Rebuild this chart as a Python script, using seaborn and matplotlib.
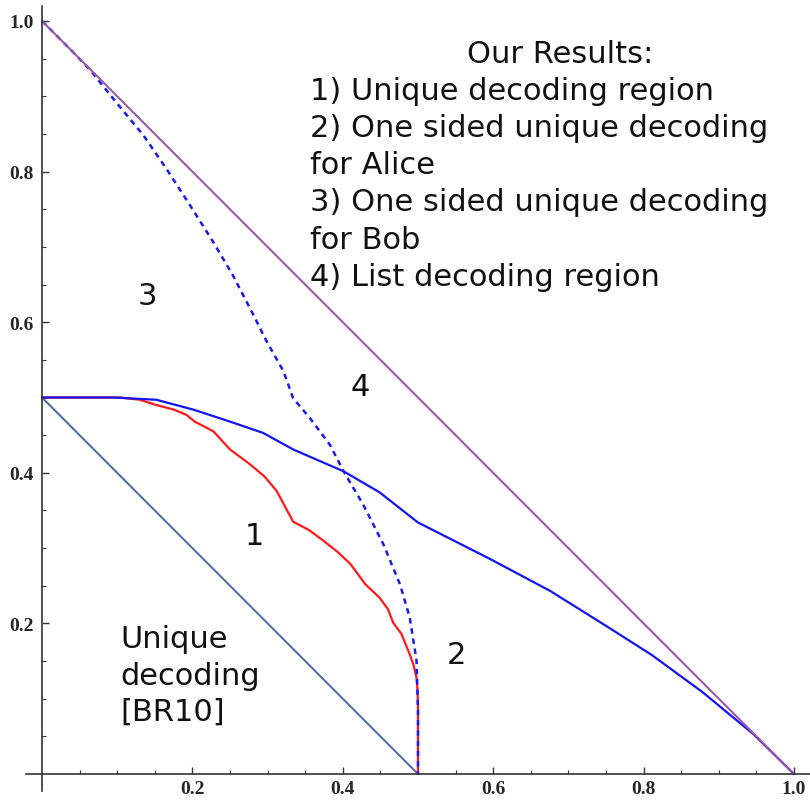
import numpy as np
import pandas as pd
import matplotlib
matplotlib.use("Agg")
import matplotlib.pyplot as plt
import seaborn as sns

# curves (x, y)
red_x = [0.0, 0.104, 0.13, 0.152, 0.175, 0.192, 0.203, 0.228, 0.25, 0.277,
         0.296, 0.312, 0.334, 0.355, 0.374, 0.393, 0.41, 0.43, 0.449, 0.46,
         0.467, 0.478, 0.489, 0.494, 0.498, 0.4995, 0.5, 0.5]
red_y = [0.5, 0.5, 0.497, 0.49, 0.484, 0.477, 0.468, 0.455, 0.431, 0.411,
         0.395, 0.376, 0.335, 0.324, 0.31, 0.295, 0.279, 0.252, 0.234, 0.219,
         0.201, 0.186, 0.159, 0.145, 0.128, 0.11, 0.09, 0.0]

blue_x = [0.0, 0.095, 0.152, 0.201, 0.25, 0.294, 0.334, 0.401, 0.449, 0.5,
          0.595, 0.676, 0.748, 0.811, 0.878, 0.946, 1.0]
blue_y = [0.5, 0.5, 0.497, 0.484, 0.468, 0.453, 0.431, 0.402, 0.374, 0.334,
          0.286, 0.243, 0.198, 0.158, 0.109, 0.053, 0.0]

dash_x = [0.0, 0.04, 0.064, 0.097, 0.135, 0.166, 0.197, 0.228, 0.254, 0.283,
          0.299, 0.321, 0.334, 0.356, 0.383, 0.401, 0.427, 0.454, 0.476,
          0.489, 0.498, 0.5, 0.5]
dash_y = [1.0, 0.96, 0.935, 0.894, 0.848, 0.803, 0.755, 0.706, 0.662, 0.606,
          0.574, 0.535, 0.499, 0.473, 0.437, 0.402, 0.358, 0.305, 0.252,
          0.208, 0.151, 0.085, 0.0]

br10_x = [0.0, 0.5]
br10_y = [0.5, 0.0]
list_x = [0.0, 1.0]
list_y = [1.0, 0.0]

tick_vals = [0.2, 0.4, 0.6, 0.8, 1.0]
tick_labels = ["0.2", "0.4", "0.6", "0.8", "1.0"]

legend_title = "Our Results:"
legend_lines = ["1) Unique decoding region",
                "2) One sided unique decoding",
                "for Alice",
                "3) One sided unique decoding",
                "for Bob",
                "4) List decoding region"]
region_labels = ["3", "4", "1", "2"]
br10_lines = ["Unique", "decoding", "[BR10]"]

sns.set_style("white")
plt.rcParams["font.family"] = ["DejaVu Sans"]

fig = plt.figure(figsize=(8.1, 8.04), dpi=100)
ax = fig.add_axes([0, 0, 1, 1])

def draw(xs, ys, **kw):
    df = pd.DataFrame({"x": xs, "y": ys})
    sns.lineplot(data=df, x="x", y="y", sort=False, estimator=None, ax=ax, **kw)

draw(br10_x, br10_y, color="#5470aa", lw=1.5)
draw(red_x, red_y, color="#ff1a1a", lw=1.6)
draw(blue_x, blue_y, color="#1414f0", lw=1.6)
draw(dash_x, dash_y, color="#1a1af0", lw=1.8, linestyle=(0, (2.2, 1.9)))
draw(list_x, list_y, color="#9c5aa6", lw=1.5)

# pixel mapping of the reference: x=0 at 42px, y=0 at 775px, ~752px per unit
ax.set_xlim(-42 / 752, 768 / 752)
ax.set_ylim(-29 / 753, 775 / 753)
ax.set_xlabel("")
ax.set_ylabel("")

for s in ["top", "right"]:
    ax.spines[s].set_visible(False)
for s in ["left", "bottom"]:
    ax.spines[s].set_position(("data", 0))
    ax.spines[s].set_color("#333333")
    ax.spines[s].set_linewidth(1.2)
ax.spines["bottom"].set_bounds(-0.021, 1.03)
ax.spines["left"].set_bounds(-0.022, 1.02)

ax.set_xticks(tick_vals)
ax.set_xticklabels(tick_labels)
ax.set_yticks(tick_vals)
ax.set_yticklabels(tick_labels)
minor = [v / 20 for v in range(1, 21) if v % 4 != 0]
ax.set_xticks(minor, minor=True)
ax.set_yticks(minor, minor=True)
ax.tick_params(which="both", bottom=True, left=True, top=False, right=False)
ax.tick_params(which="major", direction="in", length=5, width=1, color="#333333",
               pad=4.5, labelsize=14)
ax.tick_params(which="minor", direction="in", length=3, width=0.8, color="#333333")
ax.tick_params(axis="y", which="major", pad=6)
for lab in ax.get_xticklabels() + ax.get_yticklabels():
    lab.set_family("Liberation Serif")
    lab.set_fontweight("bold")

txt = dict(fontsize=22, color="#111111")
ax.text(0.689, 0.946, legend_title, ha="center", va="baseline", **txt)
for i, line in enumerate(legend_lines):
    ax.text(0.356, 0.897 - i * 0.0495, line, ha="left", va="baseline", **txt)

label_pos = [(0.140, 0.636), (0.423, 0.515), (0.283, 0.317), (0.551, 0.159)]
for lab, (lx, ly) in zip(region_labels, label_pos):
    ax.text(lx, ly, lab, ha="center", va="center", **txt)

for i, line in enumerate(br10_lines):
    ax.text(0.104, 0.168 - i * 0.048, line, ha="left", va="baseline", **txt)

fig.savefig("out.png", dpi=100)
